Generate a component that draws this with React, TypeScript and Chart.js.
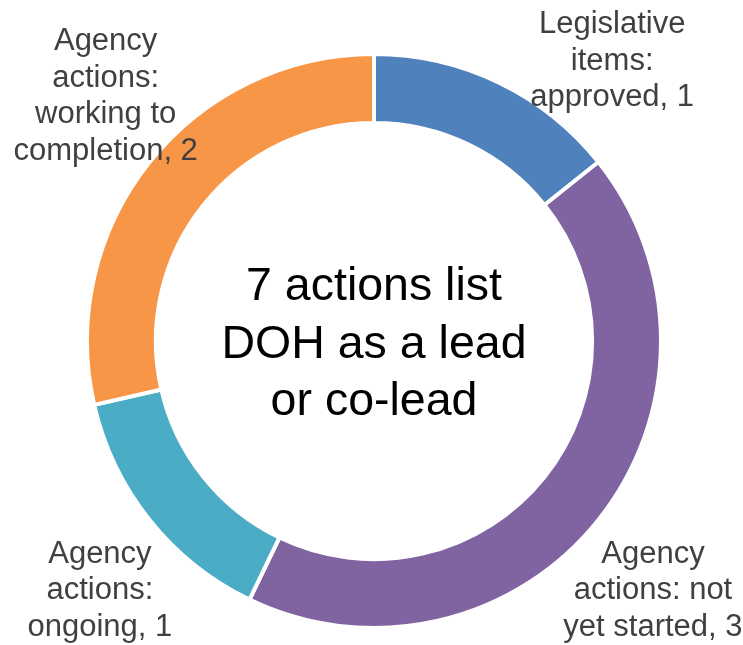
import React, { useEffect, useRef } from "react";
import { Chart, registerables } from "chart.js";

Chart.register(...registerables);

const categories = [
  ["Legislative", "items:", "approved, 1"],
  ["Agency", "actions: not", "yet started, 3"],
  ["Agency", "actions:", "ongoing, 1"],
  ["Agency", "actions:", "working to", "completion, 2"],
];
const values = [1, 3, 1, 2];
const colors = ["#4F81BD", "#8064A2", "#4BACC6", "#F79646"];
const centerLines = ["7 actions list", "DOH as a lead", "or co-lead"];
// label anchor offsets in units of outer radius (layout only)
const labelOffsets = [
  [0.83, -0.975],
  [0.972, 0.87],
  [-0.955, 0.87],
  [-0.935, -0.852],
];

const labelPlugin = {
  id: "labelPlugin",
  afterDatasetsDraw(chart: any) {
    const ctx = chart.ctx;
    const meta = chart.getDatasetMeta(0);
    const arc0 = meta.data[0];
    const cx = arc0.x;
    const cy = arc0.y;
    const R = arc0.outerRadius;
    ctx.save();
    ctx.textAlign = "center";
    ctx.textBaseline = "middle";
    ctx.fillStyle = "#404040";
    ctx.font = "31px 'Liberation Sans', Arial, sans-serif";
    const lh = 36.5;
    categories.forEach((lines, i) => {
      const [ox, oy] = labelOffsets[i];
      const x = cx + ox * R;
      const y = cy + oy * R;
      const n = lines.length;
      lines.forEach((t, j) => {
        ctx.fillText(t, x, y + (j - (n - 1) / 2) * lh);
      });
    });
    ctx.fillStyle = "#000000";
    ctx.font = "46.5px 'Liberation Sans', Arial, sans-serif";
    const clh = 57.5;
    centerLines.forEach((t, j) => {
      ctx.fillText(t, cx, cy + 4 + (j - 1) * clh);
    });
    ctx.restore();
  },
};

export default function App() {
  const ref = useRef<HTMLCanvasElement>(null);
  useEffect(() => {
    document.body.style.margin = "0";
    const chart = new Chart(ref.current!, {
      type: "doughnut",
      data: {
        labels: categories.map((l) => l.join(" ")),
        datasets: [
          {
            data: values,
            backgroundColor: colors,
            borderColor: "#ffffff",
            borderWidth: 4,
          },
        ],
      },
      options: {
        responsive: false,
        animation: false,
        cutout: "76%",
        layout: { padding: { left: 85, right: 80, top: 52, bottom: 15 } },
        plugins: {
          legend: { display: false },
          tooltip: { enabled: false },
        },
      },
      plugins: [labelPlugin],
    });
    return () => chart.destroy();
  }, []);
  return <canvas ref={ref} width={743} height={645} style={{ display: "block" }} />;
}
